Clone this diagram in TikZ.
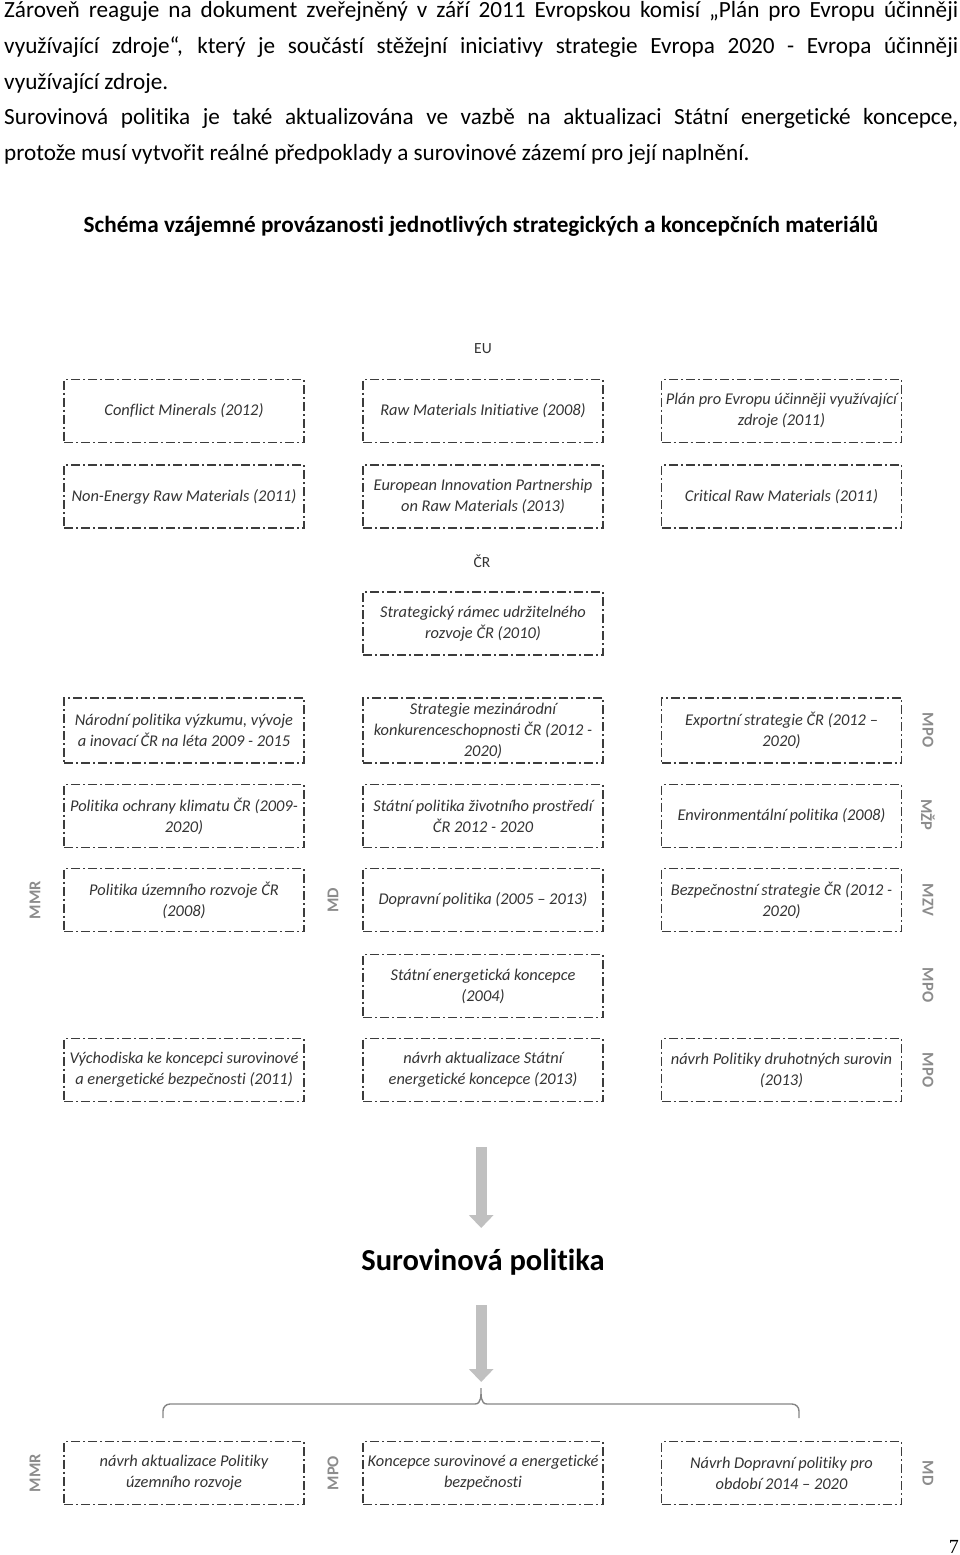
\documentclass[tikz,border=0pt]{standalone}
\usepackage{fontspec}
\setmainfont[Ligatures=NoCommon]{Carlito}
\newfontfamily\pagefont{Liberation Serif}
\usetikzlibrary{arrows.meta}
\definecolor{boxc}{HTML}{3C3C3C}
\definecolor{txtc}{HTML}{333333}
\definecolor{sidec}{HTML}{8C8C8C}
\definecolor{arrc}{HTML}{C0C0C0}
\definecolor{bracec}{HTML}{858585}
\newcommand\boxfont{\fontsize{16.4}{21}\selectfont\itshape}
\newcommand\bodyfont{\fontsize{23.2}{26}\selectfont}
\tikzset{
  box/.style={draw=boxc, line width=1.3pt, dash pattern=on 9pt off 3pt on 2pt off 3pt,
    minimum width=240pt, minimum height=63pt, inner sep=1pt, align=center,
    font=\boxfont, text=txtc},
  sidel/.style={font=\fontsize{16.5}{16.5}\selectfont\bfseries, text=sidec, inner sep=0pt},
  grouplbl/.style={font=\fontsize{15.5}{15.5}\selectfont, text=txtc, inner sep=0pt},
  bodyline/.style={anchor=base west, inner sep=0pt, font=\bodyfont, text=black},
  bigarrow/.style={draw=arrc, line width=11pt, -{Triangle[width=24pt,length=13pt]}},
  bracepath/.style={draw=bracec, line width=1.4pt}
}
\begin{document}
\begin{tikzpicture}[x=1pt,y=-1pt]
\useasboundingbox (0,0) rectangle (960,1555);
% body text
\node[bodyline] (l1) at (4,17.5) {\makebox[954pt][s]{Zároveň reaguje na dokument zveřejněný v září 2011 Evropskou komisí „Plán pro Evropu účinněji}};
\node[bodyline] (l2) at (4,53) {\makebox[954pt][s]{využívající zdroje“, který je součástí stěžejní iniciativy strategie Evropa 2020 - Evropa účinněji}};
\node[bodyline] (l3) at (4,89) {využívající zdroje.};
\node[bodyline] (l4) at (4,124.5) {\makebox[954pt][s]{Surovinová politika je také aktualizována ve vazbě na aktualizaci Státní energetické koncepce,}};
\node[bodyline] (l5) at (4,160.5) {protože musí vytvořit reálné předpoklady a surovinové zázemí pro její naplnění.};
\node[inner sep=0pt, font=\fontsize{23.2}{26}\selectfont\bfseries, anchor=base] (head) at (481,232) {Schéma vzájemné provázanosti jednotlivých strategických a koncepčních materiálů};
% EU
\node[grouplbl] (eu) at (483,349) {EU};
\node[box] (r1l) at (184,411) {Conflict Minerals (2012)};
\node[box] (r1m) at (483,411) {Raw Materials Initiative (2008)};
\node[box] (r1r) at (781.5,411) {Plán pro Evropu účinněji využívající\\ zdroje (2011)};
\node[box] (r2l) at (184,496.5) {Non-Energy Raw Materials (2011)};
\node[box] (r2m) at (483,496.5) {European Innovation Partnership\\ on Raw Materials (2013)};
\node[box] (r2r) at (781.5,496.5) {Critical Raw Materials (2011)};
% CR
\node[grouplbl] (cr) at (482,561) {ČR};
\node[box] (st) at (483,623.5) {Strategický rámec udržitelného\\ rozvoje ČR (2010)};
\node[box, minimum height=65pt] (al) at (184,730.5) {Národní politika výzkumu, vývoje\\ a inovací ČR na léta 2009 - 2015};
\node[box, minimum height=65pt] (am) at (483,730.5) {Strategie mezinárodní\\ konkurenceschopnosti ČR (2012 -\\ 2020)};
\node[box, minimum height=65pt] (ar) at (781.5,730.5) {Exportní strategie ČR (2012 –\\ 2020)};
\node[box] (bl) at (184,816) {Politika ochrany klimatu ČR (2009-\\ 2020)};
\node[box] (bm) at (483,816) {Státní politika životního prostředí\\ ČR 2012 - 2020};
\node[box] (br) at (781.5,816) {Environmentální politika (2008)};
\node[box] (cl) at (184,900) {Politika územního rozvoje ČR\\ (2008)};
\node[box] (cm) at (483,900) {Dopravní politika (2005 – 2013)};
\node[box] (cr2) at (781.5,900) {Bezpečnostní strategie ČR (2012 -\\ 2020)};
\node[box] (dm) at (483,986) {Státní energetická koncepce\\ (2004)};
\node[box] (el) at (184,1070) {Východiska ke koncepci surovinové\\ a energetické bezpečnosti (2011)};
\node[box] (em) at (483,1070) {návrh aktualizace Státní\\ energetické koncepce (2013)};
\node[box] (er) at (781.5,1070) {návrh Politiky druhotných surovin\\ (2013)};
% side labels
\node[sidel, rotate=-90] (sa) at (928,730) {MPO};
\node[sidel, rotate=-90] (sb) at (928,815) {MŽP};
\node[sidel, rotate=-90] (sc) at (928,900) {MZV};
\node[sidel, rotate=-90] (sd) at (928,985) {MPO};
\node[sidel, rotate=-90] (se) at (928,1070) {MPO};
\node[sidel, rotate=90] (scl) at (35,900) {MMR};
\node[sidel, rotate=90] (scm) at (333,900) {MD};
% arrows and result
\coordinate (a1s) at (481.2,1147);
\coordinate (a1e) at (481.2,1228);
\draw[bigarrow] (a1s) -- (a1e);
\node[inner sep=0pt, font=\fontsize{30.5}{33}\selectfont\bfseries, text=black] (sp) at (483,1262) {Surovinová politika};
\coordinate (a2s) at (481.2,1305);
\coordinate (a2e) at (481.2,1382);
\draw[bigarrow] (a2s) -- (a2e);
% brace
\coordinate (bl0) at (163,1418);
\coordinate (br0) at (799,1418);
\coordinate (btip) at (481,1388);
\draw[bracepath] (bl0) -- (163,1411) to[out=90,in=180] (170,1404) -- (475,1404) to[out=0,in=-90] (btip) to[out=-90,in=180] (487,1404) -- (792,1404) to[out=0,in=90] (799,1411) -- (br0);
% bottom row
\node[box] (fl) at (184,1473) {návrh aktualizace Politiky\\ územního rozvoje};
\node[box] (fm) at (483,1473) {Koncepce surovinové a energetické\\ bezpečnosti};
\node[box] (fr) at (781.5,1473) {Návrh Dopravní politiky pro\\ období 2014 – 2020};
\node[sidel, rotate=90] (sfl) at (35,1473) {MMR};
\node[sidel, rotate=90] (sfm) at (333,1473) {MPO};
\node[sidel, rotate=-90] (sfr) at (928,1473) {MD};
% page number
\node[inner sep=0pt, font=\pagefont\fontsize{20}{22}\selectfont, anchor=base east] (pg) at (959,1553) {7};
\end{tikzpicture}
\end{document}
